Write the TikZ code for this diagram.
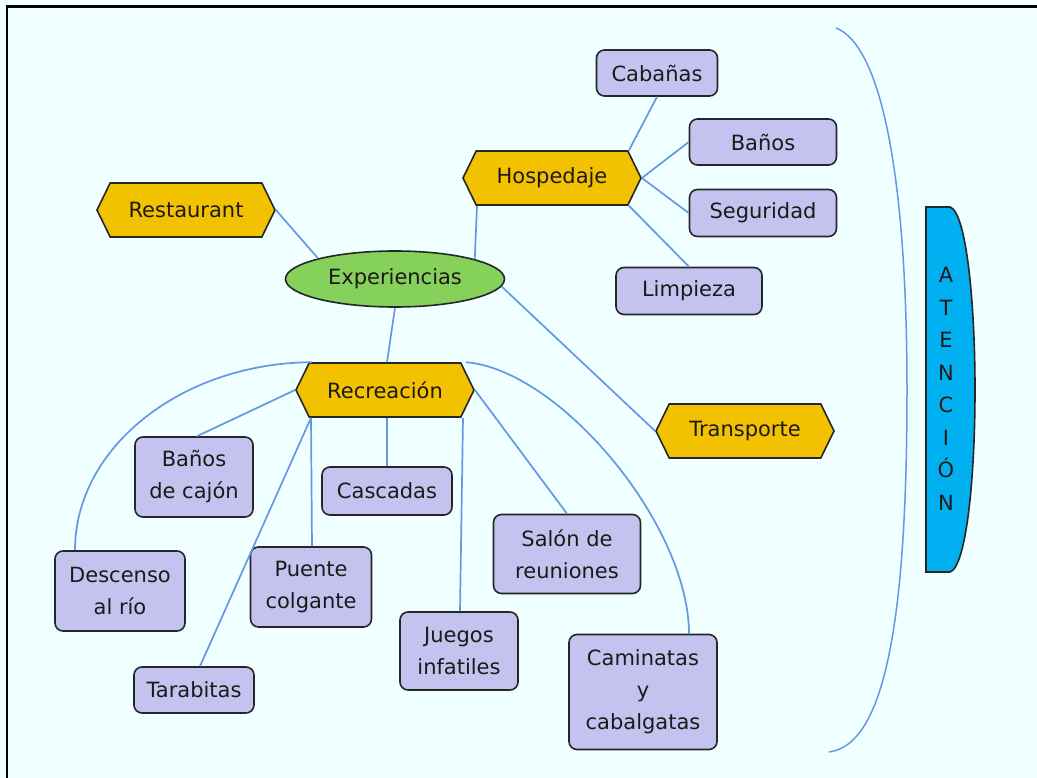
\documentclass[tikz,border=0pt]{standalone}
\usepackage{fontspec}
\setmainfont{DejaVu Sans}
\usetikzlibrary{shapes.geometric,shapes.symbols}
\definecolor{bg}{RGB}{240,255,255}
\definecolor{edge}{RGB}{38,38,38}
\definecolor{boxfill}{RGB}{196,195,239}
\definecolor{gold}{RGB}{242,194,0}
\definecolor{leaf}{RGB}{134,208,92}
\definecolor{sky}{RGB}{0,176,240}
\definecolor{linkblue}{RGB}{100,152,228}
\definecolor{txt}{RGB}{30,25,25}
\tikzset{
  box/.style={draw=edge, fill=boxfill, rounded corners=8pt, line width=1.6pt,
    align=center, inner sep=0pt, text=txt},
  hexa/.style={signal, signal to=west and east, signal pointer angle=128,
    draw=edge, fill=gold, line width=1.6pt, minimum width=178pt,
    minimum height=54pt, inner sep=0pt, text=txt},
  link/.style={draw=linkblue, line width=1.7pt},
}
\begin{document}
\begin{tikzpicture}[x=1pt, y=-1pt, font=\fontsize{21}{32}\selectfont]
% canvas and frame
\fill[bg] (0,0) rectangle (1037,778);
\useasboundingbox (0,0) rectangle (1037,778);
\draw[black, line width=2.5pt] (7,778) -- (7,6.5) -- (1037,6.5);

% hub
\node[ellipse, draw=edge, fill=leaf, line width=1.6pt, minimum width=219pt,
  minimum height=56pt, inner sep=0pt, text=txt] (exp) at (395,279) {Experiencias};

% main branches
\node[hexa] (hosp) at (552,178) {Hospedaje};
\node[hexa] (rest) at (186,210) {Restaurant};
\node[hexa] (rec)  at (385,390) {Recreación};
\node[hexa] (trans) at (745,431) {Transporte};

% lodging
\node[box, minimum width=121pt, minimum height=46pt] (cab)  at (657,73)  {Cabañas};
\node[box, minimum width=147pt, minimum height=46pt] (ban)  at (763,142) {Baños};
\node[box, minimum width=147pt, minimum height=47pt] (seg)  at (763,213) {Seguridad};
\node[box, minimum width=146pt, minimum height=47pt] (limp) at (689,291) {Limpieza};

% recreation
\node[box, minimum width=118pt, minimum height=80pt] (bdc)  at (194,477) {Baños\\de cajón};
\node[box, minimum width=130pt, minimum height=48pt] (cas)  at (387,491) {Cascadas};
\node[box, minimum width=130pt, minimum height=80pt] (desc) at (120,591) {Descenso\\al río};
\node[box, minimum width=121pt, minimum height=80pt] (pue)  at (311,587) {Puente\\colgante};
\node[box, minimum width=147pt, minimum height=79pt] (sal)  at (567,554) {Salón de\\reuniones};
\node[box, minimum width=118pt, minimum height=78pt] (jue)  at (459,651) {Juegos\\infatiles};
\node[box, minimum width=120pt, minimum height=46pt] (tar)  at (194,690) {Tarabitas};
\node[box, minimum width=148pt, minimum height=115pt] (cam) at (643,692) {Caminatas\\y\\cabalgatas};

% lodging links
\draw[link] (cab.south) -- ([xshift=77pt]hosp.north);
\draw[link] (ban.west) -- (hosp.east);
\draw[link] (seg.west) -- (hosp.east);
\draw[link] (limp.north) -- ([xshift=77pt]hosp.south);

% links to the hub
\draw[link] ([xshift=-75pt]hosp.south) -- (exp.14);
\draw[link] (rest.east) -- (exp.165);
\draw[link] (exp.-4) -- (trans.west);
\draw[link] (exp.south) -- ([xshift=2pt]rec.north);

% recreation links
\draw[link] (rec.west) -- ([xshift=3pt]bdc.north);
\draw[link] ([xshift=-74pt]rec.south) -- ([xshift=6pt]tar.north);
\draw[link] ([xshift=-74pt]rec.south) -- ([xshift=1pt]pue.north);
\draw[link] (rec.south -| cas.north) -- (cas.north);
\draw[link] ([xshift=78pt]rec.south) -- ([xshift=1pt]jue.north);
\draw[link] (rec.east) -- (sal.north);
\draw[link] ([xshift=-73pt]rec.north) .. controls (182,363) and (75,447) .. ([xshift=-45pt]desc.north);
\draw[link] ([xshift=81pt]rec.north) .. controls (560,370) and (689,525) .. ([xshift=46pt]cam.north);

% bracket and service band
\draw[link, line width=1.5pt] (836,28) .. controls (880,45) and (907,170) .. (907,390)
  .. controls (907,620) and (885,745) .. (829,752);
\draw[edge, fill=sky, line width=1.6pt] (926,207) -- (950,207)
  .. controls (966,212) and (975,300) .. (975,390)
  .. controls (975,480) and (966,567) .. (950,572) -- (926,572) -- cycle;
\node[align=center, inner sep=0pt, text=txt, font=\fontsize{21}{32.5}\selectfont] (aten) at (946,389)
  {A\\T\\E\\N\\C\\I\\Ó\\N};
\end{tikzpicture}
\end{document}
